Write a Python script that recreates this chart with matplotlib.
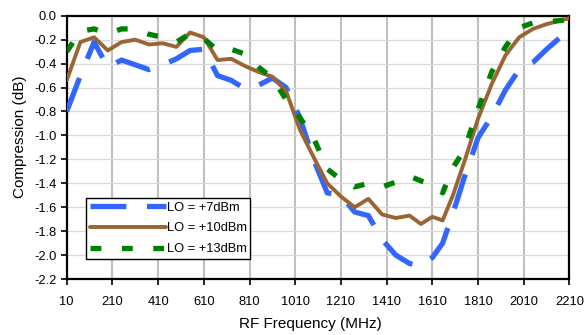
import matplotlib
matplotlib.use("Agg")
import matplotlib.pyplot as plt
from matplotlib.ticker import FixedLocator

plt.rcParams['font.family'] = ['Liberation Sans', 'DejaVu Sans']
plt.rcParams['axes.unicode_minus'] = False

freq = [10, 70, 130, 190, 250, 310, 370, 430, 490, 550, 610, 670, 730, 790, 850,
        910, 970, 1030, 1090, 1150, 1210, 1270, 1330, 1390, 1450, 1510, 1560, 1610,
        1655, 1700, 1750, 1810, 1870, 1930, 1990, 2050, 2110, 2170, 2210]

lo_7 = [-0.80, -0.50, -0.22, -0.43, -0.37, -0.41, -0.45, -0.41, -0.36, -0.29, -0.28,
        -0.50, -0.54, -0.61, -0.58, -0.52, -0.60, -0.85, -1.20, -1.48, -1.50, -1.64,
        -1.67, -1.87, -2.00, -2.07, -2.09, -2.02, -1.90, -1.65, -1.35, -1.02, -0.84,
        -0.62, -0.45, -0.39, -0.28, -0.18, -0.06]

lo_10 = [-0.54, -0.22, -0.18, -0.29, -0.22, -0.20, -0.24, -0.23, -0.26, -0.14, -0.18,
         -0.37, -0.36, -0.42, -0.47, -0.51, -0.63, -0.95, -1.18, -1.40, -1.51, -1.60,
         -1.53, -1.66, -1.69, -1.67, -1.74, -1.68, -1.71, -1.50, -1.22, -0.86, -0.57,
         -0.33, -0.18, -0.11, -0.07, -0.04, -0.02]

lo_13 = [-0.30, -0.13, -0.11, -0.15, -0.11, -0.11, -0.155, -0.18, -0.22, -0.15, -0.19,
         -0.29, -0.28, -0.32, -0.43, -0.52, -0.70, -0.85, -1.02, -1.28, -1.37, -1.43,
         -1.40, -1.43, -1.39, -1.34, -1.38, -1.41, -1.48, -1.27, -1.12, -0.78, -0.47,
         -0.26, -0.10, -0.06, -0.05, -0.04, -0.03]

labels = ["LO = +7dBm", "LO = +10dBm", "LO = +13dBm"]
x_ticks = [10, 210, 410, 610, 810, 1010, 1210, 1410, 1610, 1810, 2010, 2210]
y_ticks = [0.0, -0.2, -0.4, -0.6, -0.8, -1.0, -1.2, -1.4, -1.6, -1.8, -2.0, -2.2]

fig = plt.figure(figsize=(5.86, 3.35), dpi=100)
ax = fig.add_axes([0.1138, 0.167, 0.858, 0.786])

ax.plot(freq, lo_7, color='#3366FF', lw=3.8, dashes=(6.8, 3.9),
        dash_capstyle='butt', label=labels[0], zorder=3)
ax.plot(freq, lo_10, color='#996633', lw=2.8, solid_capstyle='round',
        label=labels[1], zorder=4)
ax.plot(freq, lo_13, color='#008000', lw=3.8, dashes=(2.05, 3.9), dash_capstyle='butt',
        label=labels[2], zorder=5)

ax.set_xlim(10, 2210)
ax.set_ylim(-2.2, 0.0)
ax.xaxis.set_major_locator(FixedLocator(x_ticks))
ax.yaxis.set_major_locator(FixedLocator(y_ticks))
ax.set_xticklabels([str(v) for v in x_ticks])
ax.set_yticklabels([f"{v:.1f}" for v in y_ticks])

ax.grid(axis='x', color='#c0c0c0', lw=1.5, zorder=0)
ax.grid(axis='y', color='#d9d9d9', lw=0.9, zorder=0)
ax.set_axisbelow(True)

for s in ax.spines.values():
    s.set_color('black')
    s.set_linewidth(1.6)

ax.tick_params(axis='both', direction='out', length=4, width=1.2, color='black',
               labelsize=9.3, pad=3)
ax.tick_params(axis='x', pad=8)

ax.set_xlabel("RF Frequency (MHz)", fontsize=11)
ax.set_ylabel("Compression (dB)", fontsize=11)
ax.xaxis.set_label_coords(0.484, -0.145)
ax.yaxis.set_label_coords(-0.078, 0.539)

leg = ax.legend(loc='lower left', bbox_to_anchor=(0.038, 0.076), fontsize=9.3,
                handlelength=5.9, handletextpad=0.05, borderpad=0.3,
                labelspacing=0.68, borderaxespad=0, fancybox=False, frameon=True,
                framealpha=1, edgecolor='black')
leg.get_frame().set_linewidth(1.0)

fig.savefig("out.png", dpi=100)
